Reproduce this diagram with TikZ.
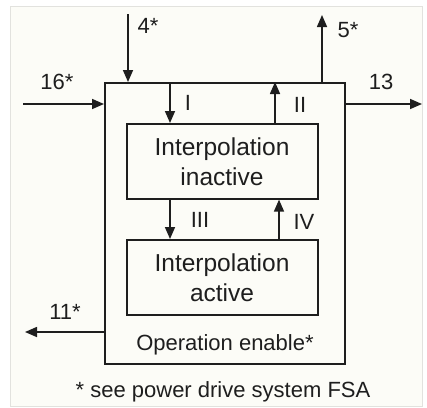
\documentclass[tikz,border=0pt]{standalone}
\usepackage{fontspec}
\setmainfont{Liberation Sans}
\usetikzlibrary{arrows.meta}
\definecolor{bgc}{HTML}{FCFCF7}
\definecolor{edgec}{HTML}{E2E2DE}
\definecolor{ink}{HTML}{1E1E1E}
\begin{document}
\begin{tikzpicture}[x=1pt,y=-1pt,
  line width=1.6pt,
  box/.style={draw=ink, line width=1.6pt, inner sep=0pt, anchor=north west},
  arr/.style={draw=ink, line width=1.6pt, -{Triangle[length=12pt,width=10pt]}},
  lbl/.style={font=\fontsize{22}{26}\selectfont, text=ink, inner sep=0pt},
  btxt/.style={font=\fontsize{24.5}{30}\selectfont, text=ink, align=center, inner sep=0pt}]
\useasboundingbox (0,0) rectangle (427,407);
\fill[white] (0,0) rectangle (427,407);
\filldraw[fill=bgc, draw=edgec, line width=1pt] (10,6) rectangle (422,406);
% boxes
\node[box, minimum width=240pt, minimum height=281pt] (outer) at (104,82) {};
\node[box, minimum width=191pt, minimum height=75pt] (inact) at (126,123) {};
\node[box, minimum width=191pt, minimum height=75pt] (act) at (126,239) {};
\node[btxt] (tinact) at (222,162) {Interpolation\\inactive};
\node[btxt] (tact) at (222,278) {Interpolation\\active};
\node[lbl] (op) at (225,345) {Operation enable*};
\node[lbl] (foot) at (223,392) {* see power drive system FSA};
% free ends
\coordinate (c4) at (128,14);
\coordinate (c5) at (322,15);
\coordinate (c16) at (23,104);
\coordinate (c13) at (422,104);
\coordinate (c11) at (25,332);
\coordinate (xI) at (170,0);
\coordinate (xII) at (275,0);
\coordinate (xIV) at (279,0);
% outer arrows
\draw[arr] (c4) -- (c4 |- outer.north);
\draw[arr] (c5 |- outer.north) -- (c5);
\draw[arr] (c16) -- (outer.west |- c16);
\draw[arr] (outer.east |- c13) -- (c13);
\draw[arr] (outer.west |- c11) -- (c11);
% inner arrows
\draw[arr] (xI |- outer.north) -- (xI |- inact.north);
\draw[arr] (xII |- inact.north) -- (xII |- outer.north);
\draw[arr] (xI |- inact.south) -- (xI |- act.north);
\draw[arr] (xIV |- act.north) -- (xIV |- inact.south);
% labels
\node[lbl] (l4) at (148,26) {4*};
\node[lbl] (l5) at (348,30) {5*};
\node[lbl] (l16) at (57,82) {16*};
\node[lbl] (l13) at (381,82) {13};
\node[lbl] (l11) at (65,312) {11*};
\node[lbl] (lI) at (188,103) {I};
\node[lbl] (lII) at (300,105) {II};
\node[lbl] (lIII) at (200,220) {III};
\node[lbl] (lIV) at (304,222) {IV};
\end{tikzpicture}
\end{document}
